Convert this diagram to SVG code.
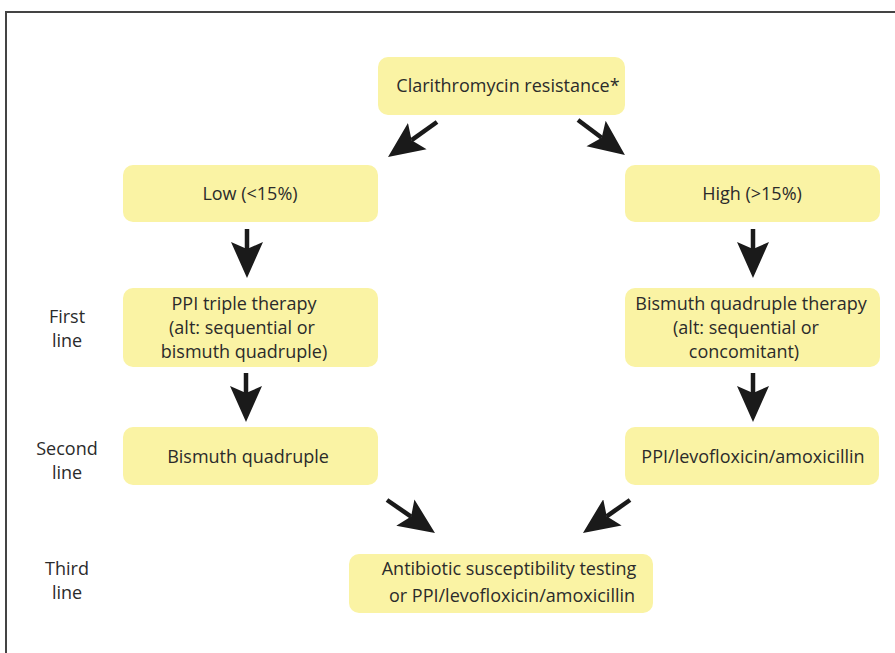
<svg xmlns="http://www.w3.org/2000/svg" width="895" height="653" viewBox="0 0 895 653">
<defs>
<style>
.box{fill:#FAF3A4;}
.t{font-family:"Open Sans","Noto Sans","Liberation Sans",sans-serif;font-size:18px;fill:#2b2b2b;text-anchor:middle;}
.c{stroke:#1a1a1a;stroke-width:4.5;fill:none;}
</style>
<marker id="ah" markerUnits="userSpaceOnUse" viewBox="0 -17 38 34" refX="7" refY="0" markerWidth="38" markerHeight="34" orient="auto">
<path d="M0,-16 L36,0 L0,16 L7,0 Z" fill="#1a1a1a"/>
</marker>
</defs>
<rect width="895" height="653" fill="#ffffff"/>
<path d="M6,653 V12 H895" fill="none" stroke="#444" stroke-width="2"/>

<g id="top"><rect class="box" x="378" y="57" width="247" height="58" rx="10"/><text class="t" x="508" y="92">Clarithromycin resistance*</text></g>
<g id="low"><rect class="box" x="123" y="165" width="255" height="57" rx="10"/><text class="t" x="250" y="200">Low (&lt;15%)</text></g>
<g id="high"><rect class="box" x="625" y="165" width="255" height="57" rx="10"/><text class="t" x="752" y="200">High (&gt;15%)</text></g>
<g id="ppi-triple"><rect class="box" x="123" y="288" width="255" height="79" rx="10"/><text class="t" x="244" y="310">PPI triple therapy</text><text class="t" x="242" y="334">(alt: sequential or</text><text class="t" x="244" y="358">bismuth quadruple)</text></g>
<g id="bismuth-therapy"><rect class="box" x="625" y="288" width="255" height="79" rx="10"/><text class="t" x="751" y="310">Bismuth quadruple therapy</text><text class="t" x="746" y="334">(alt: sequential or</text><text class="t" x="744" y="358">concomitant)</text></g>
<g id="bismuth-quad"><rect class="box" x="123" y="427" width="255" height="58" rx="10"/><text class="t" x="248" y="463">Bismuth quadruple</text></g>
<g id="ppi-levo"><rect class="box" x="625" y="427" width="254" height="58" rx="10"/><text class="t" x="753" y="463">PPI/levofloxicin/amoxicillin</text></g>
<g id="third"><rect class="box" x="349" y="554" width="304" height="59" rx="10"/><text class="t" x="509" y="575">Antibiotic  susceptibility testing</text><text class="t" x="512" y="602">or PPI/levofloxicin/amoxicillin</text></g>

<g id="labels">
<text class="t" x="67" y="323">First</text><text class="t" x="67" y="347">line</text>
<text class="t" x="67" y="455">Second</text><text class="t" x="67" y="479">line</text>
<text class="t" x="67" y="575">Third</text><text class="t" x="67" y="599">line</text>
</g>

<g id="connectors">
<line class="c" x1="437" y1="122" x2="411.6" y2="140.2" marker-end="url(#ah)"/>
<line class="c" x1="578" y1="120" x2="601.7" y2="137.7" marker-end="url(#ah)"/>
<line class="c" x1="247" y1="229" x2="247" y2="249" marker-end="url(#ah)"/>
<line class="c" x1="753" y1="229" x2="753" y2="249" marker-end="url(#ah)"/>
<line class="c" x1="246" y1="373" x2="246" y2="393" marker-end="url(#ah)"/>
<line class="c" x1="753" y1="373" x2="753" y2="393" marker-end="url(#ah)"/>
<line class="c" x1="387" y1="500" x2="411.1" y2="516.6" marker-end="url(#ah)"/>
<line class="c" x1="630" y1="500" x2="606.7" y2="516.3" marker-end="url(#ah)"/>
</g>
</svg>
